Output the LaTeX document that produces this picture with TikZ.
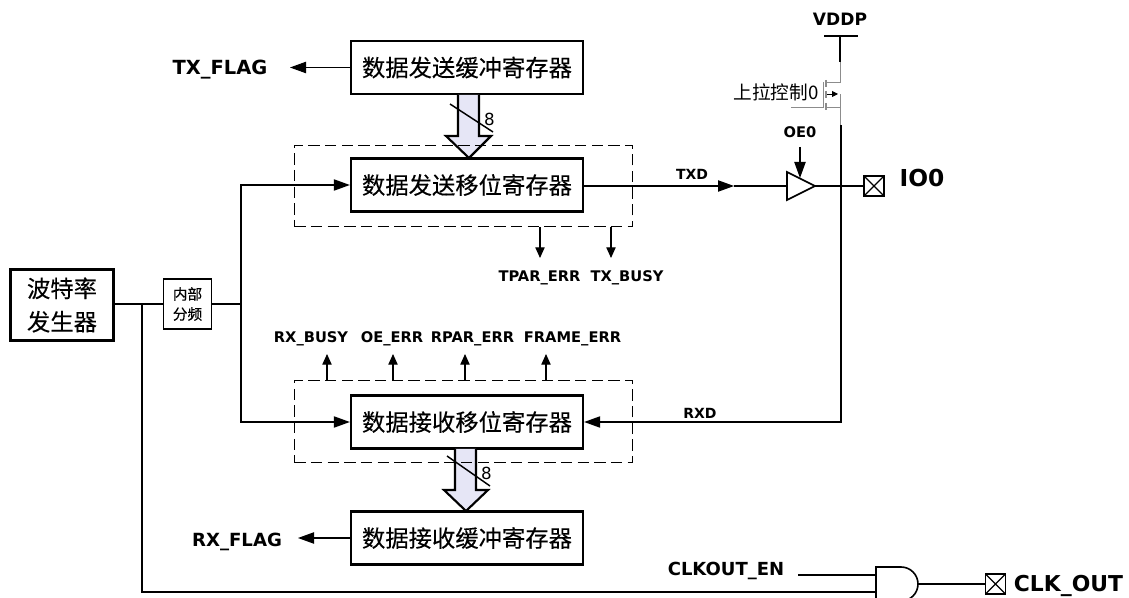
\documentclass[tikz,border=0pt]{standalone}
\usepackage{fontspec}
\setmainfont{DejaVu Sans}
\newfontfamily\cjk[FakeBold=0.25]{Noto Sans CJK SC}
\newfontfamily\cjkthin{Noto Sans CJK SC}
\usepackage{xcolor}
\definecolor{busfill}{HTML}{E6E6F6}
\definecolor{mosline}{HTML}{8C8C8C}
\usepackage{tikz}
\usetikzlibrary{arrows.meta}
\tikzset{
  regbox/.style={draw, line width=1.8pt, fill=white, inner sep=0pt, minimum width=174pt, minimum height=40pt,
    font=\cjk\fontsize{17.5}{20}\selectfont},
  frame/.style={draw, line width=0.7pt, dash pattern=on 8.5pt off 4pt, inner sep=0pt, minimum width=254pt, minimum height=61pt},
  wire/.style={line width=0.8pt},
  sig/.style={wire, -{Triangle[length=12pt,width=8.5pt]}},
  smallsig/.style={wire, -{Triangle[length=8pt,width=7pt]}},
  bus/.style={draw, line width=1.6pt, fill=busfill},
  tag/.style={font=\bfseries\fontsize{11}{13}\selectfont, inner sep=0pt},
  flag/.style={font=\bfseries\fontsize{14.6}{17}\selectfont, inner sep=0pt},
  pad/.style={draw, line width=1.3pt, fill=white, inner sep=0pt, minimum size=15.5pt,
    path picture={\draw[line width=1pt] (path picture bounding box.south west) -- (path picture bounding box.north east)
      (path picture bounding box.north west) -- (path picture bounding box.south east);}},
  mos/.style={line width=0.7pt, mosline}
}
\begin{document}
\begin{tikzpicture}[x=0.75pt, y=-0.75pt]
  \clip (0,0) rectangle (1129,598);

  % registers
  \node[regbox] (txbuf)   at (467, 67.5)  {数据发送缓冲寄存器};
  \node[regbox] (txshift) at (467, 185)   {数据发送移位寄存器};
  \node[regbox] (rxshift) at (467, 422)   {数据接收移位寄存器};
  \node[regbox] (rxbuf)   at (467, 538)   {数据接收缓冲寄存器};

  % clock source
  \node[regbox, minimum width=77pt, minimum height=53pt, align=center, font=\cjk\fontsize{17.5}{25}\selectfont]
    (baud) at (62, 305) {波特率\\发生器};
  \node[regbox, minimum width=36pt, minimum height=37pt, line width=1.4pt, align=center, font=\cjk\fontsize{11}{15}\selectfont]
    (divider) at (187.5, 304) {内部\\分频};

  % 8-bit buses
  \draw[bus] (458,95) -- (458,136) -- (446,136) -- (469,158) -- (491,136) -- (479,136) -- (479,95);
  \draw[bus] (455,449) -- (455,490) -- (444,490) -- (466,511) -- (488,490) -- (476,490) -- (476,449);
  \draw[line width=1.1pt] (450,104) -- (493,132);
  \draw[line width=1.1pt] (447,456) -- (490,486);
  \node[inner sep=0pt, font=\fontsize{12.5}{14}\selectfont] (txbits) at (489.5,119) {8};
  \node[inner sep=0pt, font=\fontsize{12.5}{14}\selectfont] (rxbits) at (486.5,473) {8};

  % dashed frames
  \node[frame] (txframe) at (463.5, 186) {};
  \node[frame] (rxframe) at (463.5, 421.5) {};

  % flags
  \node[flag] (txflag) at (220, 70) {TX\_FLAG};
  \node[flag, font=\bfseries\fontsize{13.6}{16}\selectfont] (rxflag) at (237, 541.5) {RX\_FLAG};
  \draw[sig] (txbuf.west) -- (290, 67.5);
  \draw[sig] (rxbuf.west) -- (298, 538);

  % clock wiring
  \coordinate (split) at (241, 304);
  \coordinate (tap) at (142, 304);
  \coordinate (clkin) at (876, 592);
  \draw[wire] (baud.east |- tap) -- (divider.west);
  \draw[wire] (divider.east) -- (split);
  \draw[sig] (split) |- (txshift.west);
  \draw[sig] (split) |- (rxshift.west);
  \draw[wire] (tap) |- (clkin);

  % status outputs (tx)
  \node[tag] (tparerr) at (539.5, 278) {TPAR\_ERR};
  \node[tag] (txbusy)  at (627, 278)   {TX\_BUSY};
  \draw[smallsig] (540,227) -- (540,258);
  \draw[smallsig] (611,227) -- (611,258);

  % status outputs (rx)
  \node[tag] (rxbusy)   at (311, 339) {RX\_BUSY};
  \node[tag] (oeerr)    at (392, 339) {OE\_ERR};
  \node[tag] (rparerr)  at (472.5, 339) {RPAR\_ERR};
  \node[tag] (frameerr) at (572.5, 339) {FRAME\_ERR};
  \draw[smallsig] (327,381) -- (327,354);
  \draw[smallsig] (393,381) -- (393,354);
  \draw[smallsig] (465,381) -- (465,354);
  \draw[smallsig] (546,381) -- (546,354);

  % output buffer and pad
  \coordinate (bufin) at (787, 186);
  \coordinate (bufout) at (815, 186);
  \coordinate (txdtip) at (734, 186);
  \coordinate (rail) at (841, 125);
  \node[pad] (iopad) at (874, 186) {};
  \node[font=\bfseries\fontsize{17.5}{20}\selectfont, inner sep=0pt] (ioname) at (922, 178) {IO0};
  \node[font=\bfseries\fontsize{10.5}{12}\selectfont, inner sep=0pt] (txd) at (692, 174) {TXD};
  \node[tag] (oename) at (800, 132) {OE0};
  \draw[sig] (txshift.east |- txdtip) -- (txdtip);
  \draw[wire] (txdtip) -- (bufin);
  \draw[line width=1.3pt, fill=white] (bufin) -- (787,172) -- (bufout) -- (787,200) -- cycle;
  \draw[wire] (bufout) -- (iopad.west);
  \draw[sig] (800,147) -- (800,178);

  % receive path
  \node[font=\bfseries\fontsize{10.5}{12}\selectfont, inner sep=0pt] (rxd) at (700, 413) {RXD};
  \draw[sig] (rail) |- (rxshift.east);

  % pull-up
  \node[flag, font=\bfseries\fontsize{12.8}{15}\selectfont] (vddp) at (840, 19) {VDDP};
  \node[font=\cjkthin\fontsize{14}{16}\selectfont, inner sep=0pt] (pullup) at (776, 92) {上拉控制0};
  \draw[line width=1pt] (824,36) -- (858,36);
  \draw[line width=1pt] (840,36) -- (840,62);
  \draw[mos] (840,62) -- (840,82) -- (827,82);
  \draw[mos] (840,125) -- (840,107) -- (827,107);
  \draw[mos] (840,107) -- (840,94);
  \draw[mos, -{Triangle[length=4.5pt,width=4.5pt]}, black] (827,94) -- (838,94);
  \draw[mos] (791,107) -- (823,107) -- (823,82);
  \draw[mos, line width=1pt] (826,80) -- (826,87) (826,91) -- (826,98) (826,103) -- (826,110);

  % clock output
  \coordinate (gatein) at (798, 575);
  \coordinate (gateout) at (918, 584);
  \node[flag, font=\bfseries\fontsize{13.5}{16}\selectfont] (clken) at (726, 571) {CLKOUT\_EN};
  \node[pad, minimum size=15pt] (clkpad) at (995.5, 584) {};
  \node[font=\bfseries\fontsize{16.4}{19}\selectfont, inner sep=0pt] (clkname) at (1068.5, 586) {CLK\_OUT};
  \draw[wire] (gatein) -- (876,575);
  \draw[line width=1.2pt, fill=white] (876,567) -- (901,567) arc[start angle=-90, end angle=90, radius=17] -- (876,601) -- cycle;
  \draw[wire] (gateout) -- (clkpad.west);
\end{tikzpicture}
\end{document}
